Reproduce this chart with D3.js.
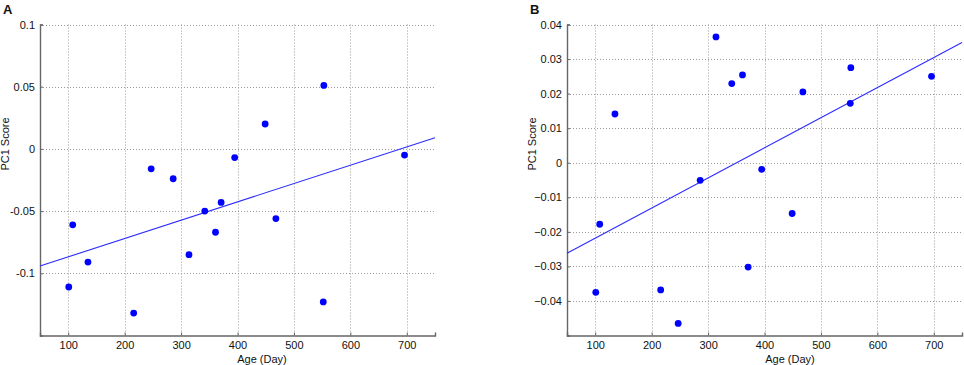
<!DOCTYPE html>
<html><head><meta charset="utf-8">
<script src="https://cdn.jsdelivr.net/npm/d3@7"></script>
<style>
body{margin:0;background:#fff;}
svg{display:block;font-family:"Liberation Sans",Arial,sans-serif;}
</style></head><body>
<svg id="c" width="964" height="365"></svg>
<script>
const ages = [101,108,135,216,247,286,314,342,361,371,395,449,468,552,553,696];
const scoresA = [-0.111,-0.061,-0.091,-0.132,-0.016,-0.024,-0.085,-0.050,-0.067,-0.043,-0.007,0.020,-0.056,-0.123,0.051,-0.005];
const scoresB = [-0.0375,-0.0178,0.0141,-0.0368,-0.0465,-0.0051,0.0364,0.0229,0.0254,-0.0302,-0.0019,-0.0147,0.0205,0.0172,0.0275,0.0250];
const xTicks = [100,200,300,400,500,600,700];
const yTicksA = [-0.1,-0.05,0,0.05,0.1];
const yTicksB = [-0.04,-0.03,-0.02,-0.01,0,0.01,0.02,0.03,0.04];

const svg = d3.select("#c");

function fit(xs, ys){
  const mx = d3.mean(xs), my = d3.mean(ys);
  let sxy=0, sxx=0;
  xs.forEach((x,i)=>{sxy+=(x-mx)*(ys[i]-my); sxx+=(x-mx)*(x-mx);});
  const b = sxy/sxx; return {b, a: my - b*mx};
}

function panel(opt){
  const g = svg.append("g");
  const x = d3.scaleLinear().domain([50,750]).range([opt.x0, opt.x1]);
  const y = d3.scaleLinear().domain(opt.ydom).range([335.5, 24.5]);
  // grid
  g.selectAll(".gx").data(xTicks).join("line")
    .attr("x1",d=>Math.round(x(d))+0.5).attr("x2",d=>Math.round(x(d))+0.5)
    .attr("y1",y.range()[1]).attr("y2",y.range()[0])
    .attr("stroke","#9a9a9a").attr("stroke-width",1).attr("stroke-dasharray","1,2");
  g.selectAll(".gy").data(opt.yTicks).join("line")
    .attr("x1",opt.x0).attr("x2",opt.x1)
    .attr("y1",d=>Math.round(y(d))+0.5).attr("y2",d=>Math.round(y(d))+0.5)
    .attr("stroke","#9a9a9a").attr("stroke-width",1).attr("stroke-dasharray","1,2");
  // axes
  const xa = d3.axisBottom(x).tickValues(xTicks).tickSize(-3).tickPadding(6).tickFormat(d3.format("d"));
  const gx = g.append("g").attr("transform",`translate(0,${y.range()[0]})`).call(xa);
  const ya = d3.axisLeft(y).tickValues(opt.yTicks).tickSize(-3).tickPadding(5).tickFormat(opt.fmt);
  const gy = g.append("g").attr("transform",`translate(${opt.x0},0)`).call(ya);
  [gx,gy].forEach(a=>{
    a.select(".domain").attr("stroke","#666").attr("stroke-width",1.4);
    a.selectAll(".tick line").attr("stroke","#666");
    a.selectAll("text").attr("font-size",11).attr("fill","#111")
      .attr("font-family","'Liberation Sans',Arial,sans-serif");
  });
  // fit line
  const f = fit(ages, opt.scores);
  g.append("line")
    .attr("x1",x(50)).attr("y1",y(f.a+f.b*50))
    .attr("x2",x(750)).attr("y2",y(f.a+f.b*750))
    .attr("stroke","#2b2bff").attr("stroke-width",1.1);
  // points
  g.selectAll("circle").data(ages).join("circle")
    .attr("cx",d=>x(d)).attr("cy",(d,i)=>y(opt.scores[i])).attr("r",3.4)
    .attr("fill","#0000ff");
  // labels
  g.append("text").attr("x",opt.lx).attr("y",14).text(opt.name)
    .attr("font-size",13).attr("font-weight","bold").attr("fill","#111");
  g.append("text").attr("transform",`translate(${opt.ylx},144) rotate(-90)`)
    .attr("text-anchor","middle").attr("font-size",11).attr("fill","#111").text("PC1 Score");
  g.append("text").attr("x",opt.xlx).attr("y",363).attr("text-anchor","middle")
    .attr("font-size",11).attr("fill","#111").text("Age (Day)");
}

panel({x0:40, x1:435, ydom:[-0.15,0.1], yTicks:yTicksA, scores:scoresA,
  fmt:d=>d===0?"0":String(d), name:"A", lx:3, ylx:9, xlx:262});
panel({x0:567, x1:962, ydom:[-0.05,0.04], yTicks:yTicksB, scores:scoresB,
  fmt:d=>d===0?"0":d3.format(".2f")(d), name:"B", lx:530, ylx:536, xlx:790});
</script>
</body></html>
